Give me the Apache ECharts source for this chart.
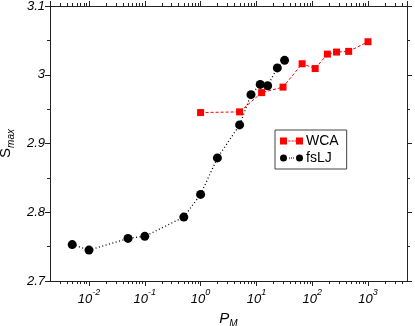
<!DOCTYPE html>
<html>
<head>
<meta charset="utf-8">
<script src="https://cdn.jsdelivr.net/npm/echarts@6/dist/echarts.min.js"></script>
<style>html,body{margin:0;padding:0;background:#fff}#c{width:415px;height:326px}</style>
</head>
<body>
<div id="c"></div>
<script>
// WCA series
var wcaX = [1, 5, 12.4, 30, 66, 113, 187, 273, 450, 1000];
var wcaY = [2.945, 2.946, 2.974, 2.982, 3.016, 3.009, 3.030, 3.033, 3.034, 3.048];
// fsLJ series
var ljX = [0.005, 0.01, 0.05, 0.1, 0.5, 1, 2, 5, 8, 11.7, 15.9, 23.7, 32];
var ljY = [2.753, 2.745, 2.762, 2.765, 2.793, 2.826, 2.879, 2.927, 2.971, 2.986, 2.984, 3.010, 3.021];
// axis ranges / ticks
var xMin = 0.002, xMax = 5000;
var yMin = 2.7, yMax = 3.1, yStep = 0.1;
var minorMult = [2, 3, 4, 5, 6, 7, 8, 9];
var decades = [-3, -2, -1, 0, 1, 2, 3];
var seriesNames = ['WCA', 'fsLJ'];

var minorTicks = [];
decades.forEach(function (d) {
  minorMult.forEach(function (m) {
    var v = m * Math.pow(10, d);
    if (v > xMin * 1.0001 && v < xMax * 0.9999) minorTicks.push([v, yMin]);
  });
});

function zip(a, b) { return a.map(function (v, i) { return [v, b[i]]; }); }

var FONT = 'Liberation Sans';
var labelRich = {
  b: { fontFamily: FONT, fontStyle: 'italic', fontSize: 13, color: '#000', lineHeight: 18, verticalAlign: 'bottom' },
  s: { fontFamily: FONT, fontStyle: 'italic', fontSize: 9, color: '#000', lineHeight: 7, verticalAlign: 'top' }
};
function xFmt(v) {
  var l = Math.log10(v), n = Math.round(l);
  if (Math.abs(l - n) > 1e-6) return '';
  return '{b|10}{s|' + n + '}';
}

var axisLineStyle = { color: '#222', width: 1 };
var tickStyle = { color: '#222', width: 1 };

var wcaIcon = 'path://M0,0H7V7H0Z M8.5,3H10.5V4H8.5Z M11.5,3H13.5V4H11.5Z M14.5,3H16V4H14.5Z M16,0H23V7H16Z';
var ljIcon = 'path://M0,3.5a3.5,3.5 0 1,0 7,0a3.5,3.5 0 1,0 -7,0Z M9,3H10V4H9Z M11,3H12V4H11Z M13,3H14V4H13Z M16,3.5a3.5,3.5 0 1,0 7,0a3.5,3.5 0 1,0 -7,0Z';

var chart = echarts.init(document.getElementById('c'), null, { renderer: 'canvas' });
chart.setOption({
  animation: false,
  backgroundColor: '#fff',
  grid: { left: 50, right: 8, top: 6, bottom: 45, containLabel: false, outerBoundsMode: 'none' },
  legend: {
    orient: 'vertical',
    left: 275, top: 130,
    padding: [4, 8, 4, 5],
    itemGap: 3,
    itemWidth: 23, itemHeight: 8,
    borderColor: '#444', borderWidth: 1,
    textStyle: { fontFamily: FONT, fontSize: 14, color: '#000', padding: [0, 0, 0, -2] },
    data: [{ name: seriesNames[0], icon: wcaIcon }, { name: seriesNames[1], icon: ljIcon }]
  },
  xAxis: [{
    type: 'log', logBase: 10, min: xMin, max: xMax,
    position: 'bottom',
    name: '{b|P}{s|M}', nameLocation: 'middle', nameGap: 26,
    nameTextStyle: { rich: {
      b: { fontFamily: FONT, fontStyle: 'italic', fontSize: 15, color: '#000', lineHeight: 18, verticalAlign: 'top' },
      s: { fontFamily: FONT, fontStyle: 'italic', fontSize: 10, color: '#000', lineHeight: 12, verticalAlign: 'bottom' }
    } },
    axisLine: { show: true, lineStyle: axisLineStyle },
    axisTick: { show: true, inside: false, length: 5, lineStyle: tickStyle },
    splitLine: { show: false },
    axisLabel: { formatter: xFmt, rich: labelRich, margin: 7, showMinLabel: false, showMaxLabel: false }
  }, {
    type: 'log', logBase: 10, min: xMin, max: xMax,
    position: 'top',
    axisLine: { show: true, lineStyle: axisLineStyle },
    axisTick: { show: true, inside: false, length: 5, lineStyle: tickStyle },
    splitLine: { show: false },
    axisLabel: { show: false }
  }],
  yAxis: [{
    type: 'value', min: yMin, max: yMax, interval: yStep,
    position: 'left',
    name: '{b|S}{s|max}', nameLocation: 'middle', nameGap: 33, nameRotate: 90,
    nameTextStyle: { rich: {
      b: { fontFamily: FONT, fontSize: 15, color: '#000', lineHeight: 18, verticalAlign: 'top' },
      s: { fontFamily: FONT, fontStyle: 'italic', fontSize: 10, color: '#000', lineHeight: 12, verticalAlign: 'bottom' }
    } },
    axisLine: { show: true, lineStyle: axisLineStyle },
    axisTick: { show: true, inside: false, length: 5, lineStyle: tickStyle },
    minorTick: { show: true, splitNumber: 2, length: 3, lineStyle: tickStyle },
    splitLine: { show: false },
    minorSplitLine: { show: false },
    axisLabel: { fontFamily: FONT, fontStyle: 'italic', fontSize: 13, color: '#000', margin: 5 }
  }, {
    type: 'value', min: yMin, max: yMax, interval: yStep,
    position: 'right',
    axisLine: { show: true, lineStyle: axisLineStyle },
    axisTick: { show: true, inside: false, length: 5, lineStyle: tickStyle },
    minorTick: { show: true, splitNumber: 2, length: 3, lineStyle: tickStyle },
    splitLine: { show: false },
    axisLabel: { show: false }
  }],
  series: [{
    name: seriesNames[0], type: 'line', data: zip(wcaX, wcaY),
    symbol: 'rect', symbolSize: 7,
    itemStyle: { color: '#ff0000' },
    lineStyle: { color: '#ff0000', width: 1, type: [3, 2] },
    z: 3
  }, {
    name: seriesNames[1], type: 'line', data: zip(ljX, ljY),
    symbol: 'circle', symbolSize: 9,
    itemStyle: { color: '#000' },
    lineStyle: { color: '#000', width: 1.3, type: [1, 2.5] },
    z: 4
  }, {
    name: 'minorTicks', type: 'custom', data: minorTicks, silent: true, clip: false,
    renderItem: function (params, api) {
      var v = api.value(0);
      var pb = api.coord([v, yMin]);
      var pt = api.coord([v, yMax]);
      var x = Math.round(pb[0]) + 0.5;
      return { type: 'group', children: [
        { type: 'line', shape: { x1: x, y1: pb[1], x2: x, y2: pb[1] + 3 }, style: { stroke: '#222', lineWidth: 1 } },
        { type: 'line', shape: { x1: x, y1: pt[1], x2: x, y2: pt[1] - 3 }, style: { stroke: '#222', lineWidth: 1 } }
      ] };
    }
  }]
});
</script>
</body>
</html>
